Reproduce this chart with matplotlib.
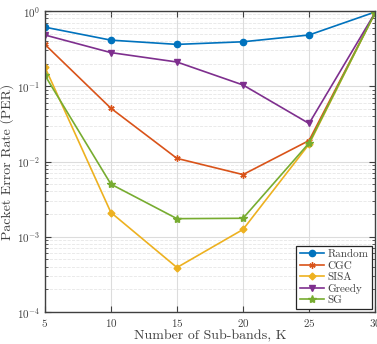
import numpy as np
import matplotlib.pyplot as plt

plt.rcParams['font.family'] = 'cmr10'
plt.rcParams['mathtext.fontset'] = 'cm'
plt.rcParams['axes.formatter.use_mathtext'] = True

K = [5, 10, 15, 20, 25, 30]
random_per = [0.61, 0.41, 0.36, 0.39, 0.48, 0.97]
cgc_per = [0.36, 0.051, 0.011, 0.0067, 0.019, 0.95]
sisa_per = [0.18, 0.0021, 0.00039, 0.00125, 0.017, 0.95]
greedy_per = [0.48, 0.28, 0.21, 0.104, 0.032, 0.95]
sg_per = [0.14, 0.005, 0.00174, 0.00176, 0.0176, 0.95]

series = [
    ('Random', random_per, '#0072BD', 'o'),
    ('CGC', cgc_per, '#D95319', (6, 2, 0)),
    ('SISA', sisa_per, '#EDB120', 'D'),
    ('Greedy', greedy_per, '#7E2F8E', 'v'),
    ('SG', sg_per, '#77AC30', '*'),
]

fig = plt.figure(figsize=(3.77, 3.44), dpi=100)
ax = fig.add_axes([0.119, 0.093, 0.876, 0.875])

for name, vals, col, mk in series:
    ms = 4.5
    if mk == 'D':
        ms = 3.5
    if mk == '*':
        ms = 6
    ax.semilogy(K, vals, color=col, marker=mk, markersize=ms, linewidth=1.2,
                markerfacecolor=col, markeredgewidth=1.0, label=name)

ax.set_xlim(5, 30)
ax.set_ylim(1e-4, 1)
ax.set_xticks(K)
ax.grid(True, which='major', color='#dcdcdc', linewidth=0.8)
ax.grid(True, which='minor', color='#e6e6e6', linewidth=0.6, linestyle='--')
ax.set_axisbelow(True)
ax.tick_params(which='both', direction='in', top=True, right=True, colors='#404040', labelsize=8)
ax.tick_params(which='major', length=4)
ax.tick_params(which='minor', length=2)
for s in ax.spines.values():
    s.set_color('#404040')
    s.set_linewidth(1.0)

ax.set_xlabel('Number of Sub-bands, K', fontsize=10, color='#404040', labelpad=1)
ax.set_ylabel('Packet Error Rate (PER)', fontsize=10, color='#404040', labelpad=2)

leg = ax.legend(loc='lower right', fontsize=8, fancybox=False, framealpha=1,
                edgecolor='#262626', borderpad=0.3, labelspacing=0.15,
                handlelength=2.2, handletextpad=0.3, borderaxespad=0.3)
leg.get_frame().set_linewidth(0.9)
for t in leg.get_texts():
    t.set_color('#404040')

fig.savefig('out.png', dpi=100)
